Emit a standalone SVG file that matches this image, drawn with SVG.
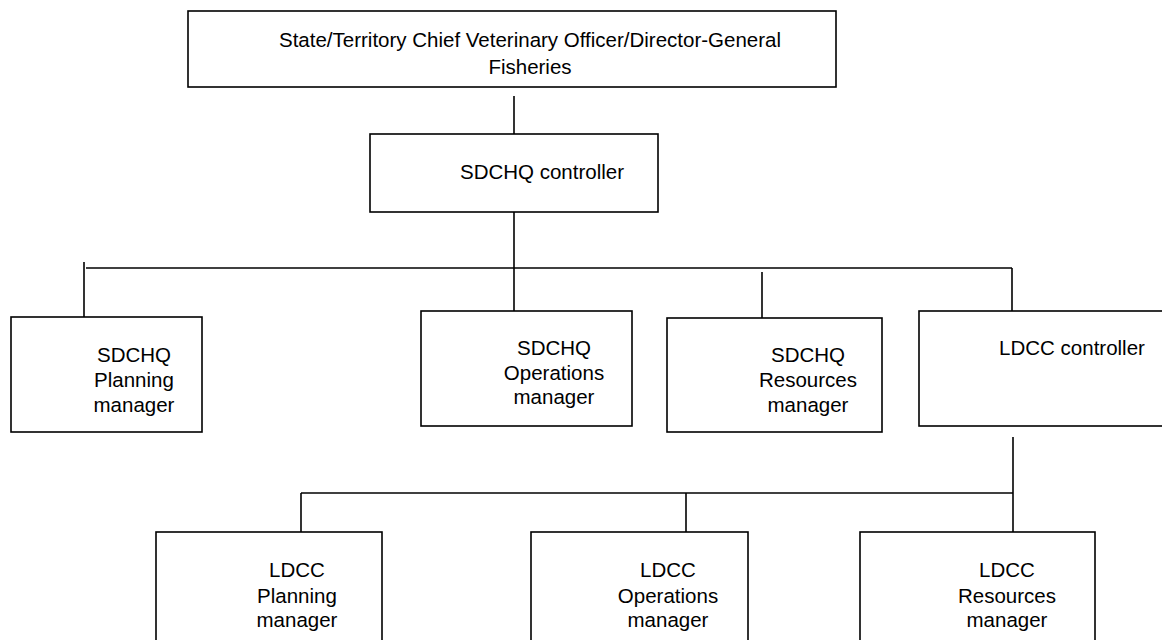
<svg xmlns="http://www.w3.org/2000/svg" width="1162" height="640" viewBox="0 0 1162 640">
  <style>
    .box { fill: #ffffff; stroke: #000000; stroke-width: 1.6; }
    .wire { fill: none; stroke: #000000; stroke-width: 1.6; }
    .label { font-family: "Liberation Sans", Arial, sans-serif; font-size: 20.5px; fill: #000000; text-anchor: middle; }
  </style>
  <rect x="0" y="0" width="1162" height="640" fill="#ffffff"/>

  <!-- connectors -->
  <g id="connectors">
    <line class="wire" x1="514" y1="96" x2="514" y2="134"/>
    <line class="wire" x1="514" y1="212" x2="514" y2="311"/>
    <line class="wire" x1="86" y1="268" x2="1012" y2="268"/>
    <line class="wire" x1="84" y1="262" x2="84" y2="317"/>
    <line class="wire" x1="762" y1="272" x2="762" y2="318"/>
    <line class="wire" x1="1012" y1="268" x2="1012" y2="311"/>
    <line class="wire" x1="1013" y1="437" x2="1013" y2="532"/>
    <line class="wire" x1="301" y1="493" x2="1013" y2="493"/>
    <line class="wire" x1="301" y1="493" x2="301" y2="532"/>
    <line class="wire" x1="686" y1="493" x2="686" y2="532"/>
  </g>

  <g id="chief-officer">
    <rect class="box" x="188" y="11" width="648" height="76"/>
    <text class="label" x="530" y="47">State/Territory Chief Veterinary Officer/Director-General</text>
    <text class="label" x="530" y="74">Fisheries</text>
  </g>

  <g id="sdchq-controller">
    <rect class="box" x="370" y="134" width="288" height="78"/>
    <text class="label" x="542" y="179">SDCHQ controller</text>
  </g>

  <g id="sdchq-planning">
    <rect class="box" x="11" y="317" width="191" height="115"/>
    <text class="label" x="134" y="362">SDCHQ</text>
    <text class="label" x="134" y="387">Planning</text>
    <text class="label" x="134" y="412">manager</text>
  </g>

  <g id="sdchq-operations">
    <rect class="box" x="421" y="311" width="211" height="115"/>
    <text class="label" x="554" y="355">SDCHQ</text>
    <text class="label" x="554" y="380">Operations</text>
    <text class="label" x="554" y="404">manager</text>
  </g>

  <g id="sdchq-resources">
    <rect class="box" x="667" y="318" width="215" height="114"/>
    <text class="label" x="808" y="362">SDCHQ</text>
    <text class="label" x="808" y="387">Resources</text>
    <text class="label" x="808" y="412">manager</text>
  </g>

  <g id="ldcc-controller">
    <rect class="box" x="919" y="311" width="260" height="115"/>
    <text class="label" x="1072" y="355">LDCC controller</text>
  </g>

  <g id="ldcc-planning">
    <rect class="box" x="156" y="532" width="226" height="130"/>
    <text class="label" x="297" y="577">LDCC</text>
    <text class="label" x="297" y="603">Planning</text>
    <text class="label" x="297" y="627">manager</text>
  </g>

  <g id="ldcc-operations">
    <rect class="box" x="531" y="532" width="217" height="130"/>
    <text class="label" x="668" y="577">LDCC</text>
    <text class="label" x="668" y="603">Operations</text>
    <text class="label" x="668" y="627">manager</text>
  </g>

  <g id="ldcc-resources">
    <rect class="box" x="860" y="532" width="235" height="130"/>
    <text class="label" x="1007" y="577">LDCC</text>
    <text class="label" x="1007" y="603">Resources</text>
    <text class="label" x="1007" y="627">manager</text>
  </g>
</svg>
